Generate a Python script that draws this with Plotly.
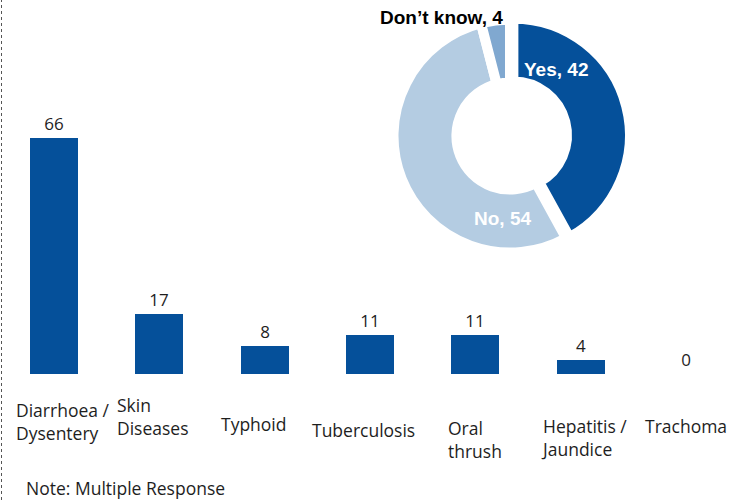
import plotly.graph_objects as go

# Reported water-borne illnesses (multiple response)
diseases = ["Diarrhoea /<br>Dysentery", "Skin<br>Diseases", "Typhoid", "Tuberculosis",
            "Oral<br>thrush", "Hepatitis /<br>Jaundice", "Trachoma"]
disease_pct = [66, 17, 8, 11, 11, 4, 0]

# Donut: response split
answers = ["Yes", "No", "Don\u2019t know"]
answer_pct = [42, 54, 4]

W, H = 729, 500
BAR_BLUE = "#05509a"
answer_colors = [BAR_BLUE, "#b4cce2", "#80a8d0"]
TEXT = "#1e1e1e"
LABEL_FONT = "Open Sans"
LABEL_SIZE = 17.5

# label placement under each category: (x shift from bar centre, y of first line)
label_shift = [-40, -44, -46, -60, -29, -42, -43]
label_top = [396, 391, 410, 416, 414, 412, 412]

fig = go.Figure()

fig.add_trace(go.Bar(
    x=list(range(len(diseases))), y=disease_pct,
    width=0.456,
    marker=dict(color=BAR_BLUE, line=dict(width=0)),
    text=disease_pct, texttemplate="%{y}", textposition="outside",
    textfont=dict(family=LABEL_FONT, size=17, color=TEXT),
    cliponaxis=False, showlegend=False,
))

fig.add_trace(go.Pie(
    labels=answers, values=answer_pct,
    sort=False, direction="clockwise", rotation=0,
    hole=0.46, pull=[0.03, 0, 0],
    marker=dict(colors=answer_colors, line=dict(color="white", width=10)),
    textinfo="none", showlegend=False,
    domain=dict(x=[390 / W, 630 / W], y=[1 - 256 / H, 1 - 16 / H]),
))

# slice labels
slice_pos = [(556, 69, "white"), (502, 219, "white"), (441, 17, "black")]
for (lab, val), (px, py, col) in zip(zip(answers, answer_pct), slice_pos):
    fig.add_annotation(
        x=px / W, y=1 - py / H, xref="paper", yref="paper",
        text=f"<b>{lab}, {val}</b>", showarrow=False,
        font=dict(family="Liberation Sans", size=19, color=col),
        xanchor="center", yanchor="middle",
    )

# category labels
for i, (name, dx, ty) in enumerate(zip(diseases, label_shift, label_top)):
    fig.add_annotation(
        x=i, y=1 - ty / H, xref="x", yref="paper", xshift=dx,
        text=name, showarrow=False, align="left",
        font=dict(family=LABEL_FONT, size=LABEL_SIZE, color=TEXT),
        xanchor="left", yanchor="top",
    )

fig.add_annotation(
    x=24 / W, y=1 - 488 / H, xref="paper", yref="paper",
    text="Note: Multiple Response", showarrow=False,
    font=dict(family=LABEL_FONT, size=LABEL_SIZE, color=TEXT),
    xanchor="left", yanchor="middle",
)

# dotted frame edge on the left
fig.add_shape(type="line", xref="paper", yref="paper",
              x0=1.5 / W, x1=1.5 / W, y0=0, y1=1,
              line=dict(color="#555555", width=1, dash="dot"))

y_bottom = 1 - 374 / H
y_66 = 1 - 138 / H
y_top = y_bottom + (y_66 - y_bottom) * 70 / 66

fig.update_layout(
    width=W, height=H,
    margin=dict(l=0, r=0, t=0, b=0),
    paper_bgcolor="white", plot_bgcolor="white",
    xaxis=dict(range=[-0.513, 6.408], domain=[0, 1], visible=False, fixedrange=True),
    yaxis=dict(range=[0, 70], domain=[y_bottom, y_top], visible=False, fixedrange=True),
    bargap=0,
)

fig.write_html("out.html")
